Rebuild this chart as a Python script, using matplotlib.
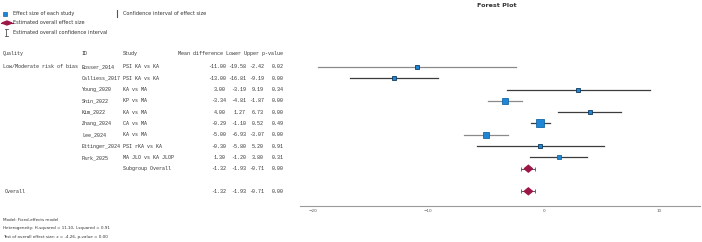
import numpy as np
import matplotlib
matplotlib.use("Agg")
import matplotlib.pyplot as plt
from matplotlib.transforms import blended_transform_factory
from matplotlib.patches import Polygon

# ---- data ----
quality = ["Low/Moderate risk of bias", "", "", "", "", "", "", "", "", ""]
study_ids = ["Bosser_2014", "Calliess_2017", "Young_2020", "Shin_2022", "Kim_2022",
             "Zhang_2024", "Lee_2024", "Ettinger_2024", "Park_2025"]
comparisons = ["PSI KA vs KA", "PSI KA vs KA", "KA vs MA", "KP vs MA", "KA vs MA",
               "CA vs MA", "KA vs MA", "PSI rKA vs KA", "MA JLO vs KA JLOP"]
mean_diff = [-11.00, -13.00, 3.00, -3.34, 4.00, -0.29, -5.00, -0.30, 1.30]
lower = [-19.58, -16.81, -3.19, -4.81, 1.27, -1.10, -6.93, -5.80, -1.20]
upper = [-2.42, -9.19, 9.19, -1.87, 6.73, 0.52, -3.07, 5.20, 3.80]
p_values = [0.02, 0.00, 0.34, 0.00, 0.00, 0.49, 0.00, 0.91, 0.31]

subgroup = (-1.32, -1.93, -0.71, 0.00)
overall = (-1.32, -1.93, -0.71, 0.00)

xticks = [-20, -10, 0, 10]
footer = ["Model: Fixed-effects model",
          "Heterogeneity: H-squared = 11.10, I-squared = 0.91",
          "Test of overall effect size: z = -4.26, p-value = 0.00"]

# line shade per study row
line_colors = ["#8a8a8a", "#3c3c3c", "#3c3c3c", "#8a8a8a", "#3c3c3c",
               "#3c3c3c", "#8a8a8a", "#3c3c3c", "#3c3c3c"]

BLUE = "#1f86d6"
CRIMSON = "#9c1747"
MONO = "Liberation Mono"

W, H = 702, 242
fig = plt.figure(figsize=(W / 100, H / 100), dpi=100)

# main plot axes, pixel box 300..700 x 10..206
ax = fig.add_axes([300 / W, (H - 206) / H, 400 / W, 196 / H])
ax.set_xlim(-21.13, 13.57)
ax.set_ylim(12.3, -5.04)
for s in ["top", "left", "right"]:
    ax.spines[s].set_visible(False)
ax.spines["bottom"].set_color("#9a9a9a")
ax.spines["bottom"].set_linewidth(0.8)
ax.set_yticks([])
ax.set_xticks(xticks)
ax.tick_params(axis="x", length=0, pad=2.5, labelsize=3, labelcolor="#555555")

n = len(study_ids)
rows = np.arange(n)
md = np.array(mean_diff)
lo = np.array(lower)
hi = np.array(upper)
se = (hi - lo) / (2 * 1.96)
w = 1 / se ** 2
msize = np.clip(2.2 + 1.6 * np.sqrt(w / w.max()) * 2.6, 2.6, 6.5)

for i in rows:
    ax.plot([lo[i], hi[i]], [i, i], color=line_colors[i], lw=0.9, zorder=1)
    ax.plot(md[i], i, marker="s", ms=msize[i], color=BLUE,
            mec="#123a5c" if msize[i] < 3.5 else "#1566a8", mew=0.6, zorder=2)


def draw_summary(row, est, l, u):
    ax.errorbar(est, row, xerr=[[est - l], [u - est]], fmt="none",
                ecolor="#555555", elinewidth=0.7, capsize=1.2, capthick=0.6, zorder=1)
    dia = Polygon([[l + 0.25, row], [est, row - 0.3], [u - 0.25, row], [est, row + 0.3]],
                  closed=True, color=CRIMSON, zorder=3)
    ax.add_patch(dia)


sub_row = n
over_row = n + 2
draw_summary(sub_row, *subgroup[:3])
draw_summary(over_row, *overall[:3])

# ---- table text ----
tr = blended_transform_factory(fig.transFigure, ax.transData)
fs = 3.65
tc = "#333333"


def px(x):
    return x / W


header_row = -1.15
for x, t in [(3, "Quality"), (82, "ID"), (123, "Study"),
             (178, "Mean difference Lower Upper p-value")]:
    ax.text(px(x), header_row, t, transform=tr, fontsize=fs, family=MONO,
            va="center", ha="left", color=tc)

ax.text(px(3), 0, quality[0], transform=tr, fontsize=fs, family=MONO,
        va="center", ha="left", color=tc)


def num_row(row, vals):
    m, l, u, p = vals
    for x, v in [(226, m), (246, l), (264, u), (284, p)]:
        ax.text(px(x), row, "%.2f" % v, transform=tr, fontsize=fs, family=MONO,
                va="center", ha="right", color=tc)


for i in rows:
    ax.text(px(82), i, study_ids[i], transform=tr, fontsize=fs, family=MONO,
            va="center", ha="left", color=tc)
    ax.text(px(123), i, comparisons[i], transform=tr, fontsize=fs, family=MONO,
            va="center", ha="left", color=tc)
    num_row(i, (mean_diff[i], lower[i], upper[i], p_values[i]))

ax.text(px(123), sub_row, "Subgroup Overall", transform=tr, fontsize=fs, family=MONO,
        va="center", ha="left", color=tc)
num_row(sub_row, subgroup)
ax.text(px(5), over_row, "Overall", transform=tr, fontsize=fs, family=MONO,
        va="center", ha="left", color=tc)
num_row(over_row, overall)

# ---- legend, title & footer (overlay in pixel coords) ----
ov = fig.add_axes([0, 0, 1, 1], facecolor="none")
ov.set_xlim(0, W)
ov.set_ylim(H, 0)
ov.axis("off")
ov.text(497, 5.5, "Forest Plot", fontsize=4.6, fontweight="bold", color="#333333",
        ha="center", va="center")
lfs = 3.6
ov.plot(5, 13.5, marker="s", ms=3.2, color=BLUE, mec="#1566a8", mew=0.5)
ov.text(13, 13.5, "Effect size of each study", fontsize=lfs, va="center", color=tc)
ov.plot([117, 117], [10, 17], color="#555555", lw=0.8)
ov.text(123, 13.5, "Confidence interval of effect size", fontsize=lfs, va="center", color=tc)
ov.add_patch(Polygon([[2, 23], [7, 21], [12, 23], [7, 25]], closed=True, color=CRIMSON))
ov.plot([1, 13], [23, 23], color=CRIMSON, lw=0.8)
ov.text(13, 23, "Estimated overall effect size", fontsize=lfs, va="center", color=tc)
ov.plot([6, 6], [29, 36], color="#555555", lw=0.6)
ov.plot([4.5, 7.5], [29, 29], color="#555555", lw=0.6)
ov.plot([4.5, 7.5], [36, 36], color="#555555", lw=0.6)
ov.text(13, 33, "Estimated overall confidence interval", fontsize=lfs, va="center", color=tc)

for k, t in enumerate(footer):
    ov.text(3, 220 + 8.5 * k, t, fontsize=3.0, va="center", color=tc)

fig.savefig("out.png", dpi=100)
